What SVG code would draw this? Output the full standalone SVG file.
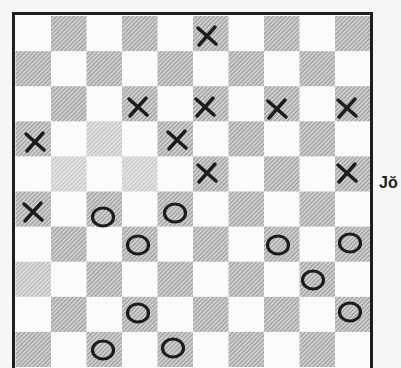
<svg xmlns="http://www.w3.org/2000/svg" width="401" height="368" viewBox="0 0 401 368">
<defs>
<pattern id="hatch" width="3" height="3" patternUnits="userSpaceOnUse" patternTransform="rotate(45)">
<rect width="3" height="3" fill="#d8d8d8"/>
<line x1="0.75" y1="0" x2="0.75" y2="3" stroke="#858585" stroke-width="1"/>
</pattern>
<g id="x"><path d="M-9,-8 L9,8 M8,-9 L-8,9" fill="none" stroke="#1c1c1c" stroke-width="3.5" stroke-linecap="round"/></g>
<g id="o"><ellipse cx="0" cy="0" rx="10.5" ry="9" fill="none" stroke="#1c1c1c" stroke-width="3.2"/></g>
</defs>
<style>
.d{fill:url(#hatch)}
.t{font-family:"Liberation Sans","DejaVu Sans",sans-serif;font-size:16px;font-weight:bold;fill:#222}
</style>
<rect width="401" height="368" fill="#f6f6f6"/>
<g id="board">
<rect x="15" y="15" width="355" height="360" fill="#fbfbfb"/>
<g id="dark-squares">
<rect class="d" x="51" y="16" width="35.5" height="35.1"/>
<rect class="d" x="122" y="16" width="35.5" height="35.1"/>
<rect class="d" x="193" y="16" width="35.5" height="35.1"/>
<rect class="d" x="264" y="16" width="35.5" height="35.1"/>
<rect class="d" x="335" y="16" width="35" height="35.1"/>
<rect class="d" x="15.5" y="51.1" width="35.5" height="35.1"/>
<rect class="d" x="86.5" y="51.1" width="35.5" height="35.1"/>
<rect class="d" x="157.5" y="51.1" width="35.5" height="35.1"/>
<rect class="d" x="228.5" y="51.1" width="35.5" height="35.1"/>
<rect class="d" x="299.5" y="51.1" width="35.5" height="35.1"/>
<rect class="d" x="51" y="86.2" width="35.5" height="35.1"/>
<rect class="d" x="122" y="86.2" width="35.5" height="35.1"/>
<rect class="d" x="193" y="86.2" width="35.5" height="35.1"/>
<rect class="d" x="264" y="86.2" width="35.5" height="35.1"/>
<rect class="d" x="335" y="86.2" width="35" height="35.1"/>
<rect class="d" x="15.5" y="121.3" width="35.5" height="35.1"/>
<rect class="d" x="86.5" y="121.3" width="35.5" height="35.1" opacity="0.6"/>
<rect class="d" x="157.5" y="121.3" width="35.5" height="35.1"/>
<rect class="d" x="228.5" y="121.3" width="35.5" height="35.1"/>
<rect class="d" x="299.5" y="121.3" width="35.5" height="35.1"/>
<rect class="d" x="51" y="156.4" width="35.5" height="35.1" opacity="0.55"/>
<rect class="d" x="122" y="156.4" width="35.5" height="35.1" opacity="0.55"/>
<rect class="d" x="193" y="156.4" width="35.5" height="35.1"/>
<rect class="d" x="264" y="156.4" width="35.5" height="35.1"/>
<rect class="d" x="335" y="156.4" width="35" height="35.1"/>
<rect class="d" x="15.5" y="191.5" width="35.5" height="35.1"/>
<rect class="d" x="86.5" y="191.5" width="35.5" height="35.1"/>
<rect class="d" x="157.5" y="191.5" width="35.5" height="35.1"/>
<rect class="d" x="228.5" y="191.5" width="35.5" height="35.1"/>
<rect class="d" x="299.5" y="191.5" width="35.5" height="35.1"/>
<rect class="d" x="51" y="226.6" width="35.5" height="35.1"/>
<rect class="d" x="122" y="226.6" width="35.5" height="35.1"/>
<rect class="d" x="193" y="226.6" width="35.5" height="35.1"/>
<rect class="d" x="264" y="226.6" width="35.5" height="35.1"/>
<rect class="d" x="335" y="226.6" width="35" height="35.1"/>
<rect class="d" x="15.5" y="261.7" width="35.5" height="35.1" opacity="0.7"/>
<rect class="d" x="86.5" y="261.7" width="35.5" height="35.1"/>
<rect class="d" x="157.5" y="261.7" width="35.5" height="35.1"/>
<rect class="d" x="228.5" y="261.7" width="35.5" height="35.1"/>
<rect class="d" x="299.5" y="261.7" width="35.5" height="35.1"/>
<rect class="d" x="51" y="296.8" width="35.5" height="35.1"/>
<rect class="d" x="122" y="296.8" width="35.5" height="35.1"/>
<rect class="d" x="193" y="296.8" width="35.5" height="35.1"/>
<rect class="d" x="264" y="296.8" width="35.5" height="35.1"/>
<rect class="d" x="335" y="296.8" width="35" height="35.1"/>
<rect class="d" x="15.5" y="331.9" width="35.5" height="35.1"/>
<rect class="d" x="86.5" y="331.9" width="35.5" height="35.1"/>
<rect class="d" x="157.5" y="331.9" width="35.5" height="35.1"/>
<rect class="d" x="228.5" y="331.9" width="35.5" height="35.1"/>
<rect class="d" x="299.5" y="331.9" width="35.5" height="35.1"/>
</g>
<rect x="13.5" y="13.5" width="358" height="365" fill="none" stroke="#1e1e1e" stroke-width="3"/>
</g>
<g id="x-pieces">
<use href="#x" x="207" y="36"/>
<use href="#x" x="138" y="107"/>
<use href="#x" x="205" y="107"/>
<use href="#x" x="277" y="109"/>
<use href="#x" x="347" y="108"/>
<use href="#x" x="35" y="142"/>
<use href="#x" x="177" y="140"/>
<use href="#x" x="207" y="173"/>
<use href="#x" x="347" y="173"/>
<use href="#x" x="33" y="212"/>
</g>
<g id="o-pieces">
<use href="#o" x="103" y="217"/>
<use href="#o" x="175" y="213"/>
<use href="#o" x="138" y="245"/>
<use href="#o" x="278" y="245"/>
<use href="#o" x="350" y="243"/>
<use href="#o" x="313" y="280"/>
<use href="#o" x="138" y="313"/>
<use href="#o" x="350" y="312"/>
<use href="#o" x="103" y="350"/>
<use href="#o" x="173" y="348"/>
</g>
<text class="t" x="379" y="188">Jŏ</text>
</svg>
